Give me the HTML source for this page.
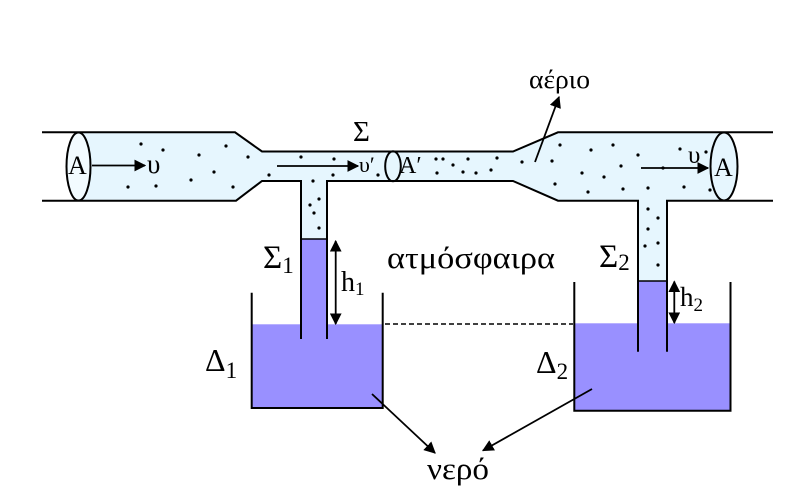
<!DOCTYPE html>
<html><head><meta charset="utf-8"><style>
html,body{margin:0;padding:0;background:#fff;}
svg{display:block;}
text{font-family:"Liberation Serif","DejaVu Serif",serif;fill:#000;}
</style></head><body>
<svg width="805" height="499" viewBox="0 0 805 499" xmlns="http://www.w3.org/2000/svg" font-family="Liberation Serif, serif">
<defs>
<marker id="ah" viewBox="0 0 10 10" refX="9" refY="5" markerWidth="6.5" markerHeight="6.5" orient="auto-start-reverse" markerUnits="strokeWidth">
<path d="M0,0 L10,5 L0,10 z" fill="#000"/>
</marker>
</defs>
<!-- gas fill -->
<path d="M78,132.3 L235,132.3 L262,151.5 L513,151.5 L558,132.3 L724,132.3 L724,200.7 L667,200.7 L667,281 L638,281 L638,200.7 L558,200.7 L513,181 L327,181 L327,239 L301,239 L301,181 L262,181 L236,200.7 L78,200.7 Z" fill="#e6f6fe"/>
<!-- water -->
<rect x="252" y="324.3" width="131" height="84" fill="#9990ff"/>
<rect x="301" y="239" width="26" height="86" fill="#9990ff"/>
<rect x="574" y="323.3" width="156" height="87.4" fill="#9990ff"/>
<rect x="638" y="281" width="29" height="43" fill="#9990ff"/>
<g stroke="#000" stroke-width="2" fill="none">
<path d="M42,132.3 L235,132.3 L262,151.5 L513,151.5 L558,132.3 L773,132.3"/>
<path d="M42,200.7 L236,200.7 L262,181 L301,181 L301,339"/>
<path d="M327,339 L327,181 L513,181 L558,200.7 L638,200.7 L638,351.7"/>
<path d="M667,351.7 L667,200.7 L773,200.7"/>
<line x1="301" y1="239" x2="327" y2="239" stroke-width="1.5"/>
<line x1="638" y1="281" x2="667" y2="281" stroke-width="1.5"/>
<path d="M251.7,292.7 L251.7,408 L382.7,408 L382.7,292.7"/>
<path d="M574.3,282 L574.3,410.7 L730.5,410.7 L730.5,282"/>
</g>
<ellipse cx="78.5" cy="166.5" rx="12" ry="34" fill="#f2fbff" stroke="#000" stroke-width="2"/>
<ellipse cx="724" cy="166.5" rx="13.5" ry="34" fill="#e6f6fe" stroke="#000" stroke-width="2"/>
<ellipse cx="393" cy="166.3" rx="7.8" ry="15" fill="none" stroke="#000" stroke-width="2"/>
<line x1="385" y1="324" x2="573" y2="324" stroke="#000" stroke-width="1.5" stroke-dasharray="5,3"/>
<g stroke="#000" stroke-width="1.8" fill="none">
<line x1="92" y1="165.5" x2="145" y2="165.5" marker-end="url(#ah)"/>
<line x1="277" y1="166" x2="358" y2="166" marker-end="url(#ah)"/>
<line x1="641" y1="168" x2="708" y2="168" marker-end="url(#ah)"/>
<line x1="335.7" y1="241" x2="335.7" y2="324" marker-start="url(#ah)" marker-end="url(#ah)"/>
<line x1="674.3" y1="281.5" x2="674.3" y2="323" marker-start="url(#ah)" marker-end="url(#ah)"/>
<line x1="535" y1="162" x2="559" y2="97" marker-end="url(#ah)"/>
<line x1="372" y1="394" x2="435" y2="453" marker-end="url(#ah)"/>
<line x1="592" y1="389" x2="483" y2="450.5" marker-end="url(#ah)"/>
</g>
<g fill="#000">
<circle cx="141" cy="144" r="1.6"/><circle cx="163" cy="150" r="1.6"/><circle cx="199" cy="155" r="1.6"/>
<circle cx="226" cy="146" r="1.6"/><circle cx="248" cy="157" r="1.6"/><circle cx="214" cy="172" r="1.6"/>
<circle cx="191" cy="180" r="1.6"/><circle cx="128" cy="187" r="1.6"/><circle cx="156" cy="186" r="1.6"/>
<circle cx="233" cy="187" r="1.6"/><circle cx="269" cy="175" r="1.6"/><circle cx="301" cy="157" r="1.6"/>
<circle cx="313" cy="181" r="1.6"/><circle cx="319" cy="199" r="1.6"/><circle cx="310" cy="205" r="1.6"/>
<circle cx="314" cy="213" r="1.6"/><circle cx="319" cy="228" r="1.6"/><circle cx="334" cy="159" r="1.6"/>
<circle cx="333" cy="175" r="1.6"/><circle cx="378" cy="175" r="1.6"/><circle cx="436" cy="159" r="1.6"/>
<circle cx="443" cy="159" r="1.6"/><circle cx="453" cy="165" r="1.6"/><circle cx="468" cy="159" r="1.6"/>
<circle cx="497" cy="158" r="1.6"/><circle cx="437" cy="173" r="1.6"/><circle cx="463" cy="172" r="1.6"/>
<circle cx="476" cy="173" r="1.6"/><circle cx="491" cy="170" r="1.6"/><circle cx="522" cy="162" r="1.6"/>
<circle cx="552" cy="161" r="1.6"/><circle cx="560" cy="145" r="1.6"/><circle cx="555" cy="184" r="1.6"/>
<circle cx="591" cy="150" r="1.6"/><circle cx="613" cy="145" r="1.6"/><circle cx="638" cy="155" r="1.6"/>
<circle cx="582" cy="173" r="1.6"/><circle cx="604" cy="177" r="1.6"/><circle cx="621" cy="166" r="1.6"/>
<circle cx="588" cy="192" r="1.6"/><circle cx="623" cy="189" r="1.6"/><circle cx="648" cy="188" r="1.6"/>
<circle cx="684" cy="187" r="1.6"/><circle cx="710" cy="190" r="1.6"/><circle cx="680" cy="149" r="1.6"/>
<circle cx="706" cy="152" r="1.6"/><circle cx="663" cy="168" r="1.6"/><circle cx="648" cy="209" r="1.6"/>
<circle cx="658" cy="218" r="1.6"/><circle cx="648" cy="229" r="1.6"/><circle cx="645" cy="246" r="1.6"/>
<circle cx="658" cy="243" r="1.6"/><circle cx="658" cy="265" r="1.6"/>
</g>
<text x="68" y="174" font-size="26">A</text>
<text x="147" y="173" font-size="27">υ</text>
<text x="359" y="172" font-size="22">υ′</text>
<text x="399" y="173" font-size="24">A′</text>
<text x="353" y="141" font-size="29">Σ</text>
<text x="529" y="88" font-size="26" textLength="61" lengthAdjust="spacingAndGlyphs">αέριο</text>
<text x="688" y="163" font-size="25">υ</text>
<text x="714" y="176" font-size="26">A</text>
<text x="263" y="268" font-size="33">Σ<tspan font-size="23" dy="5">1</tspan></text>
<text x="341" y="291" font-size="28">h<tspan font-size="19" dy="4">1</tspan></text>
<text x="387" y="268" font-size="31" textLength="168" lengthAdjust="spacingAndGlyphs">ατμόσφαιρα</text>
<text x="599" y="267" font-size="33">Σ<tspan font-size="23" dy="3">2</tspan></text>
<text x="680" y="306" font-size="27">h<tspan font-size="19" dy="5">2</tspan></text>
<text x="205" y="371" font-size="32">Δ<tspan font-size="23" dy="7">1</tspan></text>
<text x="536" y="373" font-size="32">Δ<tspan font-size="23" dy="6">2</tspan></text>
<text x="427" y="479" font-size="31" textLength="62" lengthAdjust="spacingAndGlyphs">νερό</text>
</svg>
</body></html>
